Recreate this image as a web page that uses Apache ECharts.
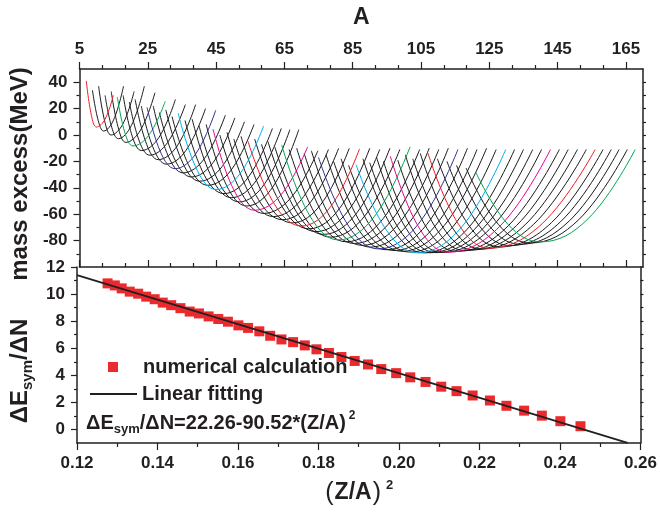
<!DOCTYPE html>
<html><head><meta charset="utf-8">
<script src="https://cdn.jsdelivr.net/npm/echarts@6/dist/echarts.min.js"></script>
<style>html,body{margin:0;padding:0;background:#fff}#c{width:660px;height:514px}</style>
</head><body><div id="c"></div><script>
// ---- top panel: mass excess (MeV) vs A, one curve per isotopic chain: [A,E, A,E, ...]
const massCurves = [
[7,41, 8.5,14.8, 10,6, 12.5,12, 14.9,30],
[8.8,34, 10.5,10.8, 12.1,3, 15,11.5, 17.9,37],
[10.6,37, 12.5,9.3, 14.3,0, 17.7,8.3, 21,33],
[12.5,30, 14.5,5.4, 16.4,-2.8, 20.2,7.2, 24,37],
[14.3,33, 16.5,4.1, 18.6,-5.6, 22.9,3.8, 27.1,32],
[16.1,28.6, 18.4,0.9, 20.7,-8.3, 25.4,0.2, 30.1,25.5],
[17.8,30, 20.5,-1.4, 23.2,-11.8, 28.2,-2.1, 33.1,27],
[19.6,25, 22.6,-5.2, 25.6,-15.3, 30.8,-5.7, 36,23],
[21.3,27, 24.7,-7.3, 28.1,-18.7, 33.6,-8.3, 39,23],
[23.1,22, 26.8,-11.1, 30.5,-22.1, 36.2,-11.6, 41.9,20],
[24.8,21, 28.9,-13.9, 33,-25.5, 39,-14.4, 44.9,18.8],
[26.6,22, 31,-16, 35.4,-28.7, 41.6,-17.8, 47.7,15],
[28.4,17, 33.1,-19.6, 37.8,-31.8, 44.2,-20.6, 50.5,13],
[30.3,19, 35.3,-21.5, 40.2,-35, 46.8,-23.8, 53.3,10],
[32.1,14, 37.4,-25.1, 42.6,-38.1, 49.4,-26.6, 56.1,8],
[33.9,16.5, 39.5,-26.9, 45,-41.3, 52,-29.3, 58.9,6.8],
[35.9,11, 41.6,-30.6, 47.3,-44.4, 54.4,-32.1, 61.5,5],
[38,12, 43.8,-32.6, 49.5,-47.5, 56.8,-34.4, 64.1,5],
[40,7, 45.9,-36.3, 51.8,-50.7, 59.2,-37, 66.6,4],
[42.1,8, 48.1,-38.4, 54,-53.8, 61.6,-39.4, 69.2,4],
[44.1,4.5, 50.2,-41.6, 56.3,-57, 64.1,-45, 71.8,-9],
[46.1,0, 52.6,-44.6, 59,-59.4, 66.9,-47.6, 74.8,-12],
[48.2,2, 55,-45.9, 61.8,-61.8, 69.9,-49.1, 77.9,-11],
[50.2,-3, 57.4,-48.9, 64.5,-64.2, 72.7,-50.7, 80.9,-10],
[52.3,-1, 59.8,-50.2, 67.3,-66.6, 75.7,-52.5, 84,-10],
[54.3,-4.5, 62.2,-52.9, 70,-69, 78.5,-54.4, 87,-10.5],
[56.3,-3, 64.3,-54.1, 72.2,-71.1, 81.1,-55.8, 90,-10],
[58.3,-7, 66.3,-56.7, 74.3,-73.2, 83.6,-57.7, 92.9,-11],
[60.2,-5, 68.4,-57.7, 76.5,-75.3, 86.2,-59, 95.9,-10],
[62.2,-9, 70.4,-60.3, 78.6,-77.4, 88.7,-60.8, 98.8,-11],
[64.2,-7.5, 72.5,-61.5, 80.8,-79.5, 91.3,-61.9, 101.8,-9],
[66.4,-11, 74.8,-63.4, 83.1,-80.9, 93.9,-63.4, 104.6,-11],
[68.6,-10, 77.1,-64.2, 85.5,-82.2, 96.5,-64.2, 107.4,-10],
[70.8,-14, 79.3,-66.2, 87.8,-83.6, 99,-65.5, 110.2,-11],
[72.9,-12, 81.6,-66.7, 90.2,-84.9, 101.6,-66.2, 113,-10],
[75,-17, 83.8,-69, 92.5,-86.3, 104.2,-67.5, 115.8,-11],
[77.2,-15, 86,-68.9, 94.8,-86.9, 106.7,-67.7, 118.6,-10],
[79.4,-20, 88.3,-70.6, 97.1,-87.5, 109.3,-68.4, 121.4,-11],
[81.6,-18, 90.5,-70.6, 99.4,-88.1, 111.8,-68.6, 124.2,-10],
[83.8,-23, 92.8,-72.3, 101.7,-88.7, 114.4,-69.3, 127,-11],
[86,-22.5, 95,-72.6, 104,-89.3, 116.9,-69.7, 129.8,-11],
[88,-18, 96.9,-71.5, 105.8,-89.3, 119.1,-69.7, 132.4,-11],
[90,-21, 98.8,-72.2, 107.6,-89.2, 121.3,-69.7, 135,-11],
[92,-17, 100.7,-71.1, 109.4,-89.1, 123.6,-69.6, 137.7,-11],
[94,-20, 102.6,-71.8, 111.2,-89, 125.8,-69.5, 140.3,-11],
[96,-16, 104.5,-70.6, 113,-88.8, 128,-69.4, 142.9,-11],
[98.2,-19, 106.8,-70.9, 115.4,-88.2, 130.5,-68.9, 145.5,-11],
[100.4,-15, 109.1,-69.5, 117.8,-87.6, 133,-68.5, 148.1,-11],
[102.6,-18, 111.4,-69.8, 120.2,-87, 135.5,-68, 150.8,-11],
[104.8,-14, 113.7,-68.3, 122.6,-86.4, 138,-67.6, 153.4,-11],
[107,-13.5, 116,-67.7, 125,-85.8, 140.5,-67.1, 156,-11],
[109.8,-18, 118.9,-68.1, 128,-84.8, 143.2,-66.4, 158.3,-11],
[112.6,-20, 121.8,-67.9, 131,-83.8, 145.9,-65.6, 160.7,-11],
[115.4,-23, 124.7,-67.9, 134,-82.8, 148.5,-64.9, 163,-11],
[118.2,-25, 127.6,-67.6, 137,-81.8, 151.2,-64.1, 165.4,-11],
[121,-28, 130.5,-67.8, 140,-81, 153.9,-63.5, 167.7,-11]
];

// ---- bottom panel: dEsym/dN vs (Z/A)^2
const zaSquared = [0.1276,0.1294,0.1311,0.1331,0.1352,0.1372,0.1393,0.1413,0.1434,0.1457,
  0.1480,0.1503,0.1527,0.1551,0.1575,0.1601,0.1625,0.1653,0.1680,0.1708,
  0.1737,0.1766,0.1795,0.1826,0.1857,0.1890,0.1923,0.1956,0.1993,0.2028,
  0.2066,0.2105,0.2143,0.2183,0.2226,0.2267,0.2311,0.2355,0.2401,0.2451];
const dEsymdN = [10.79,10.64,10.42,10.18,10.03,9.81,9.62,9.37,9.18,8.96,
  8.71,8.57,8.35,8.16,7.96,7.69,7.50,7.25,6.92,6.65,
  6.45,6.21,5.92,5.65,5.35,5.06,4.80,4.46,4.16,3.85,
  3.51,3.16,2.83,2.51,2.14,1.75,1.39,1.02,0.61,0.24];
const fitX = [0.12, 0.2568];
const fitY = [11.40, -0.99];

// ---- tick values
const aMajorTicks = [5,25,45,65,85,105,125,145,165];
const aMinorTicks = [11.67,18.33,31.67,38.33,51.67,58.33,71.67,78.33,91.67,98.33,111.67,118.33,131.67,138.33,151.67,158.33];
const meMajorTicks = [-80,-60,-40,-20,0,20,40];
const meMinorTicks = [-90,-70,-50,-30,-10,10,30];
const meRightTicks = [-90,-80,-70,-60,-50,-40,-30,-20,-10,0,10,20,30,40];
const dnMajorTicks = [0,2,4,6,8,10,12];
const dnMinorTicks = [1,3,5,7,9,11];
const dnRightTicks = [0,1,2,3,4,5,6,7,8,9,10,11];

const FF = '"Liberation Sans", Arial, Helvetica, sans-serif';
const INK = '#231f20';
const cycle = ['#ed1c24','#00a651','#2e3192','#00aeef','#ec008c'];

const chart = echarts.init(document.getElementById('c'), null, {renderer:'canvas'});

function lab(extra){ return Object.assign({fontFamily:FF, fontWeight:'bold', fontSize:17, color:INK}, extra||{}); }
const line = {show:true, onZero:false, lineStyle:{color:INK, width:1.5}};
const noLine = {show:false, onZero:false};

const curveSeries = massCurves.map((pts, i) => {
  const data = [];
  for (let k = 0; k < pts.length; k += 2) data.push([pts[k], pts[k+1]]);
  const colored = i % 5 === 0;
  return {
    type:'line', name:'c'+i, xAxisIndex:0, yAxisIndex:0, data,
    smooth:0.4, symbol:'none', showSymbol:false, silent:true,
    lineStyle:{width:1, color: colored ? cycle[(i/5)%5] : '#1a1a1a'},
    z: colored ? 4 : 3
  };
});

const option = {
  animation:false,
  backgroundColor:'#fff',
  grid:[
    {left:77, top:69, width:566, height:198},
    {left:77, top:267, width:566, height:176}
  ],
  xAxis:[
    {gridIndex:0, type:'value', position:'top', min:5, max:170, axisLine:line,
     axisTick:{show:true, customValues:aMajorTicks, length:7, lineStyle:{color:INK, width:1.2}},
     axisLabel:{show:true, customValues:aMajorTicks, margin:11, ...lab()},
     splitLine:{show:false}, name:'A', nameLocation:'middle', nameGap:40,
     nameTextStyle:lab({fontSize:23})},
    {gridIndex:0, type:'value', position:'top', min:5, max:170, axisLine:noLine,
     axisTick:{show:true, customValues:aMinorTicks, length:4, lineStyle:{color:INK, width:1.2}},
     axisLabel:{show:false}, splitLine:{show:false}},
    {gridIndex:0, type:'value', position:'bottom', min:5, max:170, axisLine:line,
     axisTick:{show:true, inside:true, customValues:aMajorTicks, length:7, lineStyle:{color:INK, width:1.2}},
     axisLabel:{show:false}, splitLine:{show:false}},
    {gridIndex:0, type:'value', position:'bottom', min:5, max:170, axisLine:noLine,
     axisTick:{show:true, inside:true, customValues:aMinorTicks, length:4, lineStyle:{color:INK, width:1.2}},
     axisLabel:{show:false}, splitLine:{show:false}},
    {gridIndex:1, type:'value', position:'bottom', min:0.12, max:0.26, interval:0.02, axisLine:line,
     axisTick:{show:true, length:7, lineStyle:{color:INK, width:1.2}},
     minorTick:{show:true, splitNumber:2, length:4, lineStyle:{color:INK, width:1.2}},
     axisLabel:{show:true, margin:12, formatter:v => v.toFixed(2), ...lab()},
     splitLine:{show:false}, minorSplitLine:{show:false},
     name:'{pn|(}{a|Z/A}{pn|)}{p|2}', nameLocation:'middle', nameGap:36,
     nameTextStyle:{fontFamily:FF, color:INK, rich:{
       a:{fontFamily:FF, fontWeight:'bold', fontSize:23, color:INK, lineHeight:28, verticalAlign:'middle'},
       pn:{fontFamily:FF, fontWeight:'normal', fontSize:25, color:INK, lineHeight:28, verticalAlign:'middle', padding:[0,1,0,1]},
       p:{fontFamily:FF, fontWeight:'bold', fontSize:13, color:INK, lineHeight:13, verticalAlign:'top', padding:[0,0,0,4]}
     }}}
  ],
  yAxis:[
    {gridIndex:0, type:'value', position:'left', min:-100, max:50, axisLine:line,
     axisTick:{show:true, customValues:meMajorTicks, length:6, lineStyle:{color:INK, width:1.2}},
     axisLabel:{show:true, customValues:meMajorTicks, margin:12, ...lab()},
     splitLine:{show:false}, name:'mass excess(MeV)', nameLocation:'middle', nameGap:45, nameRotate:90,
     nameTextStyle:lab({fontSize:24, padding:[0,12,0,0]})},
    {gridIndex:0, type:'value', position:'left', min:-100, max:50, axisLine:noLine,
     axisTick:{show:true, customValues:meMinorTicks, length:3, lineStyle:{color:INK, width:1.2}},
     axisLabel:{show:false}, splitLine:{show:false}},
    {gridIndex:0, type:'value', position:'right', min:-100, max:50, axisLine:line,
     axisTick:{show:true, customValues:meRightTicks, length:3, lineStyle:{color:INK, width:1.2}},
     axisLabel:{show:false}, splitLine:{show:false}},
    {gridIndex:1, type:'value', position:'left', min:-1, max:12, axisLine:line,
     axisTick:{show:true, customValues:dnMajorTicks, length:6, lineStyle:{color:INK, width:1.2}},
     axisLabel:{show:true, customValues:dnMajorTicks, margin:12, ...lab()},
     splitLine:{show:false},
     name:'{a|ΔE}{s|sym}{a|/ΔN}', nameLocation:'middle', nameGap:37, nameRotate:90,
     nameTextStyle:{fontFamily:FF, color:INK, padding:[0,32,0,0], rich:{
       a:{fontFamily:FF, fontWeight:'bold', fontSize:24, color:INK, lineHeight:30, verticalAlign:'middle'},
       s:{fontFamily:FF, fontWeight:'bold', fontSize:15, color:INK, lineHeight:15, verticalAlign:'bottom'}
     }}},
    {gridIndex:1, type:'value', position:'left', min:-1, max:12, axisLine:noLine,
     axisTick:{show:true, customValues:dnMinorTicks, length:3, lineStyle:{color:INK, width:1.2}},
     axisLabel:{show:false}, splitLine:{show:false}},
    {gridIndex:1, type:'value', position:'right', min:-1, max:12, axisLine:line,
     axisTick:{show:true, customValues:dnRightTicks, length:3, lineStyle:{color:INK, width:1.2}},
     axisLabel:{show:false}, splitLine:{show:false}}
  ],
  legend:[
    {data:[{name:'numerical calculation', icon:'rect'}], left:108, top:357, orient:'vertical',
     itemWidth:10, itemHeight:10, padding:0, selectedMode:false,
     textStyle:lab({fontSize:20, padding:[0,0,0,20]})},
    {data:[{name:'Linear fitting', icon:'rect'}], left:90, top:384, orient:'vertical',
     itemWidth:47, itemHeight:2, padding:0, selectedMode:false,
     textStyle:lab({fontSize:20})}
  ],
  title:{
    text:'{a|ΔE}{s|sym}{a|/ΔN=22.26-90.52*(Z/A)}{p|2}', left:86, top:410, padding:0,
    textStyle:{fontFamily:FF, color:INK, rich:{
      a:{fontFamily:FF, fontWeight:'bold', fontSize:20, color:INK, lineHeight:26, verticalAlign:'middle'},
      s:{fontFamily:FF, fontWeight:'bold', fontSize:13, color:INK, lineHeight:13, verticalAlign:'bottom'},
      p:{fontFamily:FF, fontWeight:'bold', fontSize:12, color:INK, lineHeight:12, verticalAlign:'top', padding:[0,0,0,3]}
    }}
  },
  series: curveSeries.concat([
    {type:'scatter', name:'numerical calculation', xAxisIndex:4, yAxisIndex:3,
     data: zaSquared.map((x, k) => [x, dEsymdN[k]]), symbol:'rect', symbolSize:10,
     itemStyle:{color:'#ec2a2e', opacity:1}, z:5},
    {type:'line', name:'Linear fitting', xAxisIndex:4, yAxisIndex:3,
     data: fitX.map((x, k) => [x, fitY[k]]), symbol:'none', showSymbol:false,
     lineStyle:{color:INK, width:1.8}, itemStyle:{color:INK}, z:6}
  ])
};
chart.setOption(option);
</script></body></html>
